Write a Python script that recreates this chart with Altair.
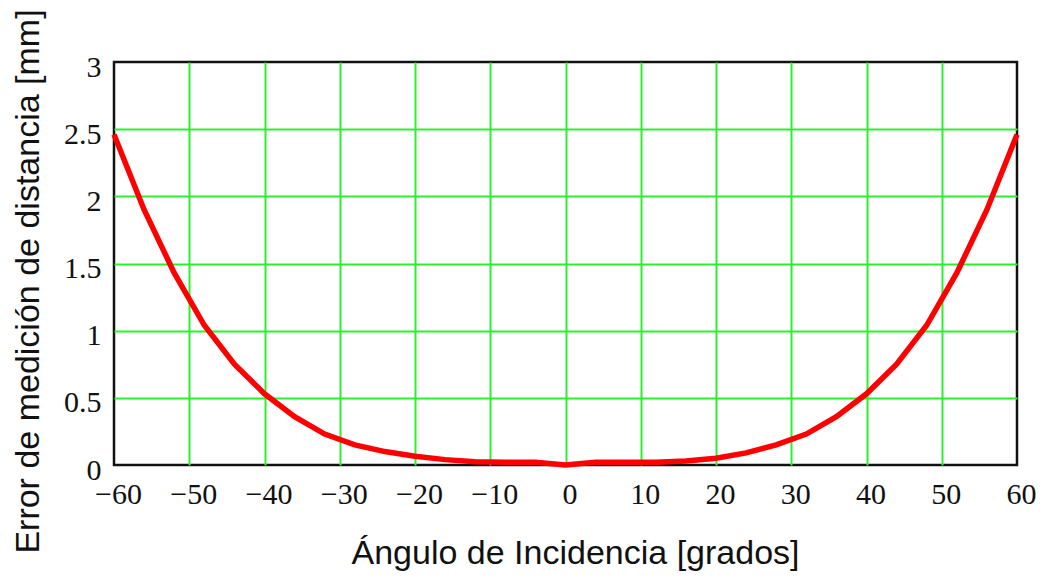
import altair as alt
import pandas as pd

angles = [-60, -56, -52, -48, -44, -40, -36, -32, -28, -24, -20, -16, -12, -8, -4, 0,
          4, 8, 12, 16, 20, 24, 28, 32, 36, 40, 44, 48, 52, 56, 60]
errors = [2.46, 1.90, 1.43, 1.04, 0.75, 0.53, 0.36, 0.23, 0.15, 0.10, 0.065, 0.04, 0.025, 0.02, 0.02, 0.0,
          0.02, 0.02, 0.02, 0.03, 0.05, 0.09, 0.15, 0.23, 0.36, 0.53, 0.75, 1.04, 1.43, 1.90, 2.46]
x_ticks = [-60, -50, -40, -30, -20, -10, 0, 10, 20, 30, 40, 50, 60]
y_ticks = [0, 0.5, 1, 1.5, 2, 2.5, 3]

df = pd.DataFrame({"angle": angles, "error": errors})

chart = alt.Chart(df).mark_line(color="#ff0000", strokeWidth=5.5).encode(
    x=alt.X("angle:Q",
            scale=alt.Scale(domain=[-60, 60], nice=False, zero=False),
            axis=alt.Axis(values=x_ticks, title="Ángulo de Incidencia [grados]",
                          labelExpr="datum.value < 0 ? '\u2212' + abs(datum.value) : datum.label",
                          labelPadding=14, labelOffset=4, labelFlush=False,
                          gridOpacity={"condition": {"test": "abs(datum.value) == 60", "value": 0}, "value": 1},
                          titleX=461, titleY=98, titleBaseline="alphabetic", titleAnchor="middle")),
    y=alt.Y("error:Q",
            scale=alt.Scale(domain=[0, 3], nice=False),
            axis=alt.Axis(values=y_ticks, format=".1~f", title="Error de medición de distancia [mm]",
                          labelPadding=13, labelOffset=5, labelFlush=False,
                          gridOpacity={"condition": {"test": "datum.value == 0 || datum.value == 3", "value": 0}, "value": 1},
                          titleX=-86, titleY=219, titleBaseline="middle", titleAnchor="middle")),
).properties(
    width=903, height=403,
    autosize=alt.AutoSizeParams(type="none"),
    padding={"left": 106, "top": 54, "right": 19, "bottom": 108},
).configure(
    background="white"
).configure_view(
    stroke="#111111", strokeWidth=2.5
).configure_axis(
    grid=True, gridColor="#2cf02c", gridWidth=2,
    domain=False, ticks=False,
    labelFont="Liberation Serif", labelFontSize=30, labelColor="#111111",
    titleFont="Liberation Sans", titleFontSize=34, titleFontWeight="normal", titleColor="#111111",
)

chart.save("out.html", embed_options={"renderer": "svg", "actions": False})
